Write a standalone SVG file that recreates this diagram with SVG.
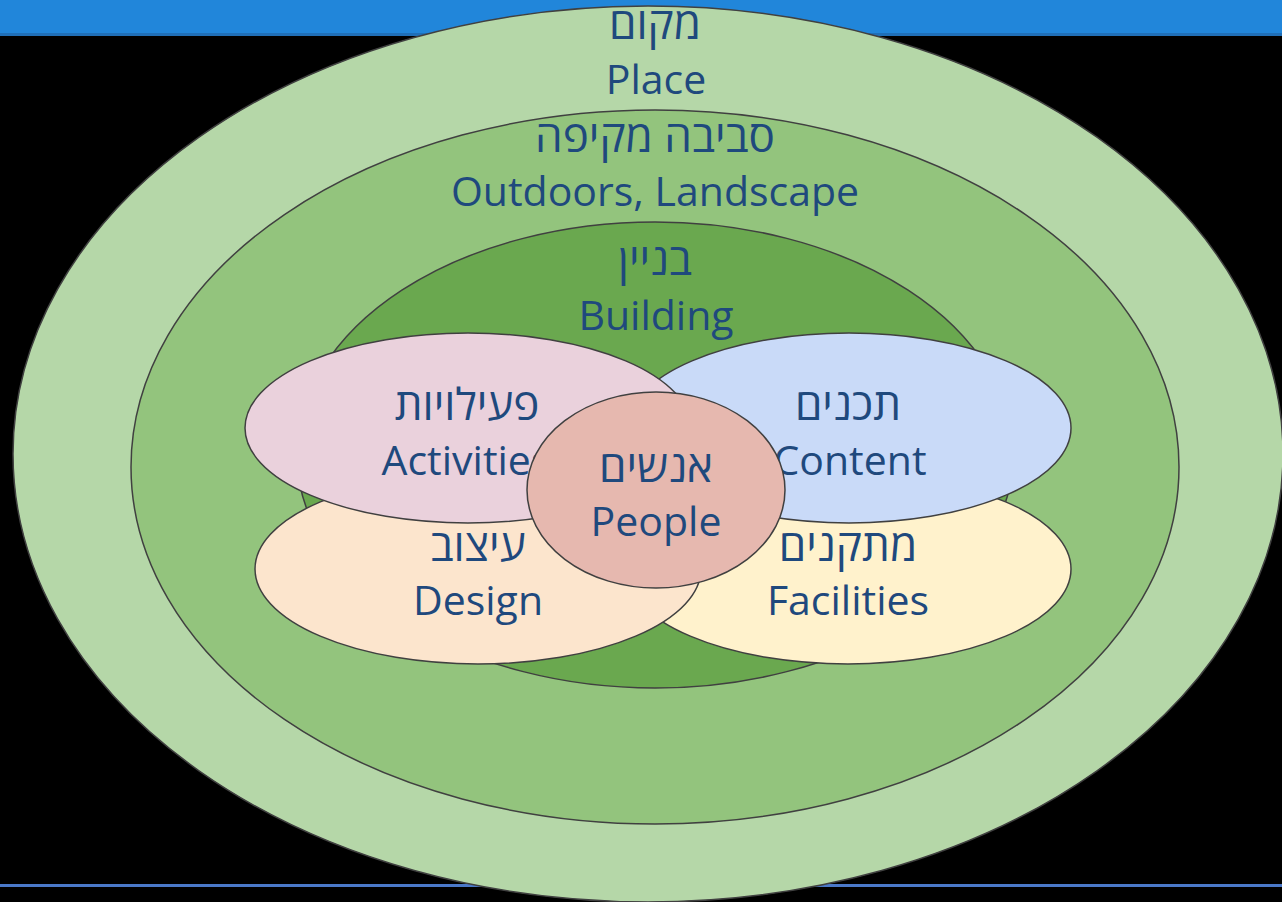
<svg xmlns="http://www.w3.org/2000/svg" width="1282" height="902" viewBox="0 0 1282 902">
<style>
.e{stroke:#404040;stroke-width:1.5}
.t{font-family:"Open Sans","Noto Sans","DejaVu Sans",sans-serif;font-size:41px;fill:#1F497D;text-anchor:middle}
.h{font-size:44px}
</style>
<rect x="0" y="0" width="1282" height="902" fill="#000"/>
<rect x="0" y="0" width="1282" height="33" fill="#2186DA"/>
<rect x="0" y="33" width="1282" height="3" fill="#1F6FB8"/>
<rect x="0" y="884" width="1282" height="3" fill="#4A78C8"/>
<g id="place">
<ellipse class="e" cx="648" cy="454" rx="635" ry="448" fill="#B5D7A8"/>
<text class="t h" x="655" y="39">מקום</text>
<text class="t" x="656" y="94">Place</text>
</g>
<g id="outdoors">
<ellipse class="e" cx="655" cy="467" rx="524" ry="357" fill="#93C47D"/>
<text class="t h" x="655" y="152">סביבה מקיפה</text>
<text class="t" x="655" y="206">Outdoors, Landscape</text>
</g>
<g id="building">
<ellipse class="e" cx="655" cy="455" rx="358" ry="233" fill="#6AA84F"/>
<text class="t h" x="655" y="275">בניין</text>
<text class="t" x="656" y="330">Building</text>
</g>
<g id="facilities">
<ellipse class="e" cx="848" cy="569" rx="223" ry="95" fill="#FFF2CC"/>
<text class="t h" x="848" y="561">מתקנים</text>
<text class="t" x="848" y="615">Facilities</text>
</g>
<g id="design">
<ellipse class="e" cx="478" cy="569" rx="223" ry="95" fill="#FCE5CD"/>
<text class="t h" x="478" y="561">עיצוב</text>
<text class="t" x="478" y="615">Design</text>
</g>
<g id="content">
<ellipse class="e" cx="849" cy="428" rx="222" ry="95" fill="#C9DAF8"/>
<text class="t h" x="848" y="420">תכנים</text>
<text class="t" x="850" y="475">Content</text>
</g>
<g id="activities">
<ellipse class="e" cx="468" cy="428" rx="223" ry="95" fill="#EAD1DC"/>
<text class="t h" x="467" y="420">פעילויות</text>
<text class="t" x="466" y="475">Activities</text>
</g>
<g id="people">
<ellipse class="e" cx="656" cy="490" rx="129" ry="98" fill="#E6B8AF"/>
<text class="t h" x="656" y="482">אנשים</text>
<text class="t" x="656" y="536">People</text>
</g>
<g id="connectors"></g>
</svg>
